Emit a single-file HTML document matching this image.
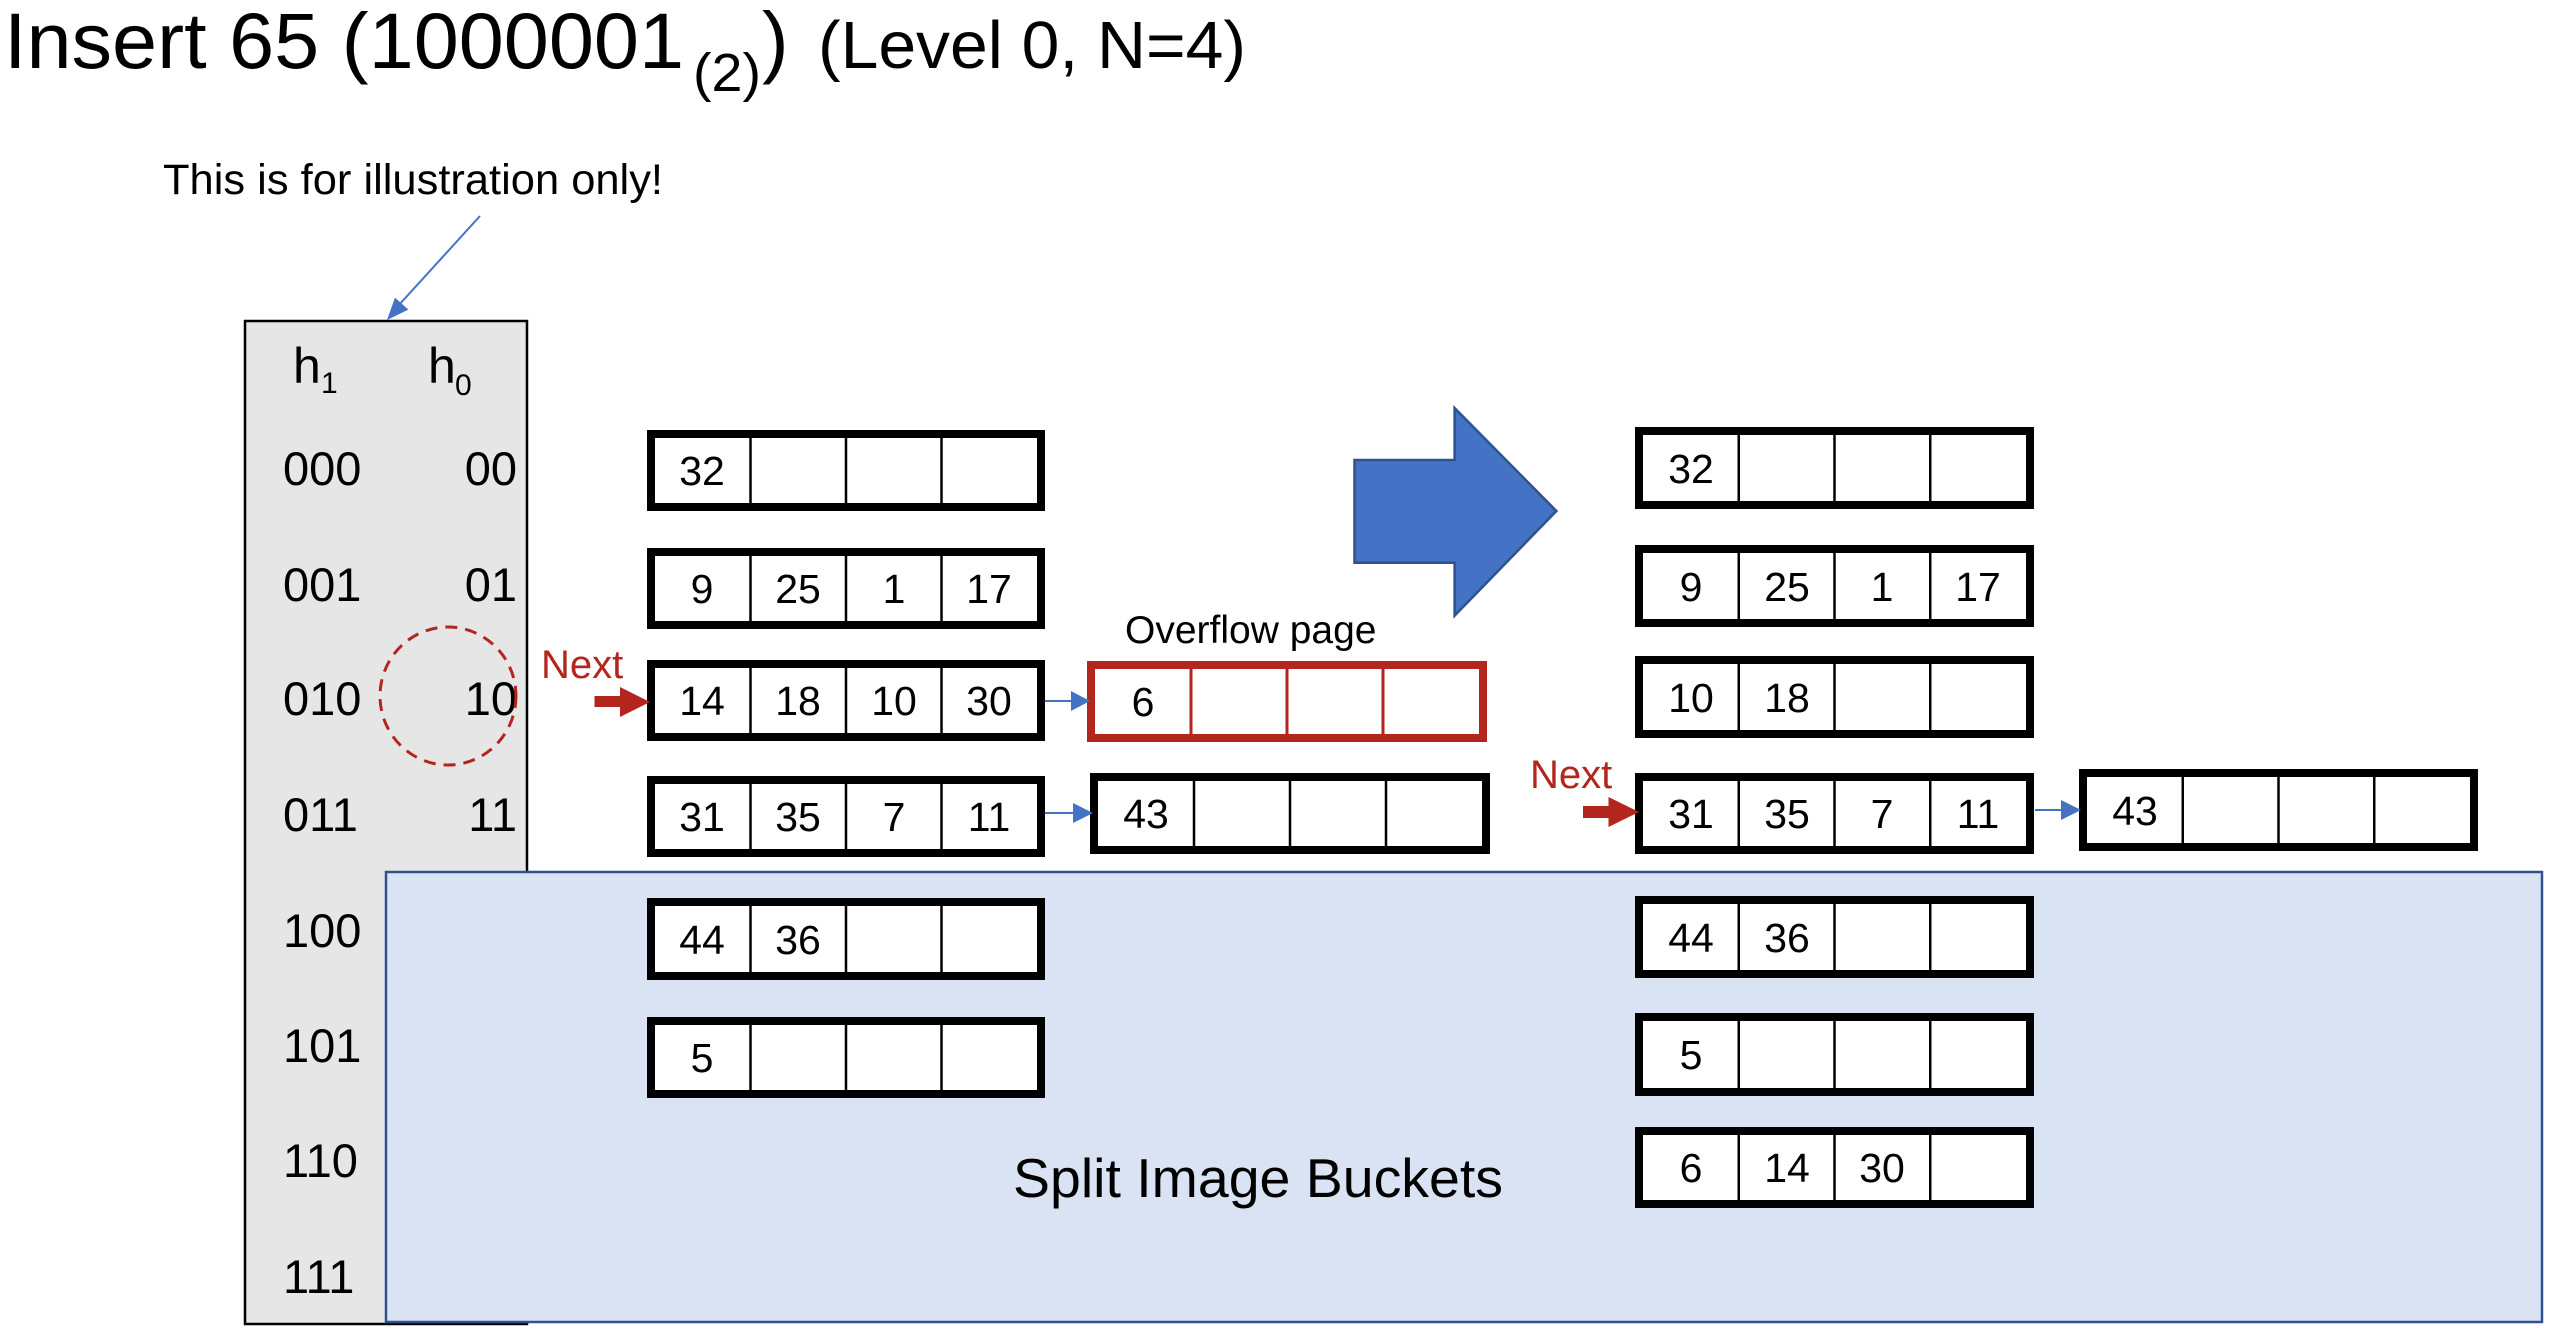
<!DOCTYPE html>
<html><head><meta charset="utf-8"><style>
html,body{margin:0;padding:0;background:#fff;}
svg{display:block;}
text{font-family:"Liberation Sans",Arial,sans-serif;}
</style></head><body>
<svg width="2556" height="1330" viewBox="0 0 2556 1330" xmlns="http://www.w3.org/2000/svg">
<rect x="0" y="0" width="2556" height="1330" fill="#fff"/>

<!-- Title -->
<text x="4" y="68" font-size="79" textLength="680" lengthAdjust="spacingAndGlyphs" fill="#000">Insert 65 (1000001</text>
<text x="693" y="91" font-size="54" textLength="68" lengthAdjust="spacingAndGlyphs" fill="#000">(2)</text>
<text x="762" y="68" font-size="80" fill="#000">)</text>
<text x="818" y="68" font-size="67" textLength="428" lengthAdjust="spacingAndGlyphs" fill="#000">(Level 0, N=4)</text>

<!-- illustration note -->
<text x="163" y="194" font-size="43" textLength="500" lengthAdjust="spacingAndGlyphs" fill="#000">This is for illustration only!</text>
<line x1="480" y1="216" x2="398" y2="306" stroke="#4472c4" stroke-width="2"/>
<polygon points="387,320 408.4,309.6 395,297.6" fill="#4472c4"/>

<!-- gray directory box -->
<rect x="245" y="321" width="282" height="1003" fill="#e6e6e6" stroke="#000" stroke-width="2.5"/>
<text x="293" y="383" font-size="50" fill="#000">h</text>
<text x="321" y="393" font-size="30" fill="#000">1</text>
<text x="428" y="383" font-size="50" fill="#000">h</text>
<text x="455" y="395" font-size="30" fill="#000">0</text>

<g font-size="47" fill="#000">
<text x="283" y="485">000</text><text x="517" y="485" text-anchor="end">00</text>
<text x="283" y="601">001</text><text x="517" y="601" text-anchor="end">01</text>
<text x="283" y="715">010</text><text x="517" y="715" text-anchor="end">10</text>
<text x="283" y="831">011</text><text x="517" y="831" text-anchor="end">11</text>
</g>

<!-- dashed circle -->
<ellipse cx="448" cy="696" rx="68" ry="69" fill="none" stroke="#b3261e" stroke-width="3" stroke-dasharray="12 8"/>

<!-- blue split region -->
<rect x="386" y="872" width="2156" height="450" fill="#dae3f3" stroke="#2f528f" stroke-width="2.5"/>
<g font-size="47" fill="#000">
<text x="283" y="947">100</text>
<text x="283" y="1062">101</text>
<text x="283" y="1177">110</text>
<text x="283" y="1293">111</text>
</g>
<text x="1013" y="1197" font-size="55" textLength="490" lengthAdjust="spacingAndGlyphs" fill="#000">Split Image Buckets</text>

<!-- LEFT BUCKETS -->
<g stroke="#000" fill="#fff">
<rect x="651" y="434" width="390" height="73" stroke-width="8"/>
<rect x="651" y="552" width="390" height="73" stroke-width="8"/>
<rect x="651" y="664" width="390" height="73" stroke-width="8"/>
<rect x="651" y="780" width="390" height="73" stroke-width="8"/>
<rect x="651" y="902" width="390" height="74" stroke-width="8"/>
<rect x="651" y="1021" width="390" height="73" stroke-width="8"/>
</g>
<g stroke="#000" stroke-width="2.5">
<line x1="750.5" y1="438" x2="750.5" y2="503"/><line x1="846" y1="438" x2="846" y2="503"/><line x1="941.5" y1="438" x2="941.5" y2="503"/>
<line x1="750.5" y1="556" x2="750.5" y2="621"/><line x1="846" y1="556" x2="846" y2="621"/><line x1="941.5" y1="556" x2="941.5" y2="621"/>
<line x1="750.5" y1="668" x2="750.5" y2="733"/><line x1="846" y1="668" x2="846" y2="733"/><line x1="941.5" y1="668" x2="941.5" y2="733"/>
<line x1="750.5" y1="784" x2="750.5" y2="849"/><line x1="846" y1="784" x2="846" y2="849"/><line x1="941.5" y1="784" x2="941.5" y2="849"/>
<line x1="750.5" y1="906" x2="750.5" y2="972"/><line x1="846" y1="906" x2="846" y2="972"/><line x1="941.5" y1="906" x2="941.5" y2="972"/>
<line x1="750.5" y1="1025" x2="750.5" y2="1090"/><line x1="846" y1="1025" x2="846" y2="1090"/><line x1="941.5" y1="1025" x2="941.5" y2="1090"/>
</g>
<g font-size="41" fill="#000" text-anchor="middle">
<text x="702" y="485">32</text>
<text x="702" y="603">9</text><text x="798" y="603">25</text><text x="894" y="603">1</text><text x="989" y="603">17</text>
<text x="702" y="715">14</text><text x="798" y="715">18</text><text x="894" y="715">10</text><text x="989" y="715">30</text>
<text x="702" y="831">31</text><text x="798" y="831">35</text><text x="894" y="831">7</text><text x="989" y="831">11</text>
<text x="702" y="954">44</text><text x="798" y="954">36</text>
<text x="702" y="1072">5</text>
</g>

<!-- left Next -->
<text x="541" y="678" font-size="40" fill="#b3261e">Next</text>
<polygon points="594.5,696 620,696 620,687 650,702 620,717 620,707 594.5,707" fill="#b3261e"/>

<!-- overflow pages (left) -->
<text x="1125" y="643" font-size="39" fill="#000">Overflow page</text>
<rect x="1091" y="665" width="392" height="73" fill="#fff" stroke="#b3261e" stroke-width="8"/>
<g stroke="#b3261e" stroke-width="3">
<line x1="1191" y1="669" x2="1191" y2="734"/><line x1="1287" y1="669" x2="1287" y2="734"/><line x1="1383" y1="669" x2="1383" y2="734"/>
</g>
<text x="1143" y="716" font-size="41" text-anchor="middle" fill="#000">6</text>

<rect x="1094" y="777" width="392" height="73" fill="#fff" stroke="#000" stroke-width="8"/>
<g stroke="#000" stroke-width="2.5">
<line x1="1194" y1="781" x2="1194" y2="846"/><line x1="1290" y1="781" x2="1290" y2="846"/><line x1="1386" y1="781" x2="1386" y2="846"/>
</g>
<text x="1146" y="828" font-size="41" text-anchor="middle" fill="#000">43</text>

<!-- connectors left -->
<line x1="1045" y1="701" x2="1074" y2="701" stroke="#4472c4" stroke-width="2"/>
<polygon points="1071,691 1090,701 1071,711" fill="#4472c4"/>
<line x1="1045" y1="813" x2="1075" y2="813" stroke="#4472c4" stroke-width="2"/>
<polygon points="1073,803 1093,813 1073,823" fill="#4472c4"/>

<!-- big blue arrow -->
<polygon points="1354.5,460 1454.6,460 1454.6,408 1556.4,511 1454.6,615.7 1454.6,562.7 1354.5,562.7" fill="#4472c4" stroke="#2f528f" stroke-width="2.5"/>

<!-- RIGHT BUCKETS -->
<g stroke="#000" fill="#fff">
<rect x="1639" y="431" width="391" height="74" stroke-width="8"/>
<rect x="1639" y="549" width="391" height="74" stroke-width="8"/>
<rect x="1639" y="660" width="391" height="74" stroke-width="8"/>
<rect x="1639" y="777" width="391" height="73" stroke-width="8"/>
<rect x="1639" y="900" width="391" height="74" stroke-width="8"/>
<rect x="1639" y="1017" width="391" height="75" stroke-width="8"/>
<rect x="1639" y="1131" width="391" height="73" stroke-width="8"/>
<rect x="2083" y="773" width="391" height="74" stroke-width="8"/>
</g>
<g stroke="#000" stroke-width="2.5">
<line x1="1738.75" y1="435" x2="1738.75" y2="501"/><line x1="1834.5" y1="435" x2="1834.5" y2="501"/><line x1="1930.25" y1="435" x2="1930.25" y2="501"/>
<line x1="1738.75" y1="553" x2="1738.75" y2="619"/><line x1="1834.5" y1="553" x2="1834.5" y2="619"/><line x1="1930.25" y1="553" x2="1930.25" y2="619"/>
<line x1="1738.75" y1="664" x2="1738.75" y2="730"/><line x1="1834.5" y1="664" x2="1834.5" y2="730"/><line x1="1930.25" y1="664" x2="1930.25" y2="730"/>
<line x1="1738.75" y1="781" x2="1738.75" y2="846"/><line x1="1834.5" y1="781" x2="1834.5" y2="846"/><line x1="1930.25" y1="781" x2="1930.25" y2="846"/>
<line x1="1738.75" y1="904" x2="1738.75" y2="970"/><line x1="1834.5" y1="904" x2="1834.5" y2="970"/><line x1="1930.25" y1="904" x2="1930.25" y2="970"/>
<line x1="1738.75" y1="1021" x2="1738.75" y2="1088"/><line x1="1834.5" y1="1021" x2="1834.5" y2="1088"/><line x1="1930.25" y1="1021" x2="1930.25" y2="1088"/>
<line x1="1738.75" y1="1135" x2="1738.75" y2="1200"/><line x1="1834.5" y1="1135" x2="1834.5" y2="1200"/><line x1="1930.25" y1="1135" x2="1930.25" y2="1200"/>
<line x1="2182.75" y1="777" x2="2182.75" y2="843"/><line x1="2278.5" y1="777" x2="2278.5" y2="843"/><line x1="2374.25" y1="777" x2="2374.25" y2="843"/>
</g>
<g font-size="41" fill="#000" text-anchor="middle">
<text x="1691" y="483">32</text>
<text x="1691" y="601">9</text><text x="1787" y="601">25</text><text x="1882" y="601">1</text><text x="1978" y="601">17</text>
<text x="1691" y="712">10</text><text x="1787" y="712">18</text>
<text x="1691" y="828">31</text><text x="1787" y="828">35</text><text x="1882" y="828">7</text><text x="1978" y="828">11</text>
<text x="1691" y="952">44</text><text x="1787" y="952">36</text>
<text x="1691" y="1069">5</text>
<text x="1691" y="1182">6</text><text x="1787" y="1182">14</text><text x="1882" y="1182">30</text>
<text x="2135" y="825">43</text>
</g>

<!-- right Next -->
<text x="1530" y="788" font-size="40" fill="#b3261e">Next</text>
<polygon points="1583,806 1608.5,806 1608.5,797 1639,812 1608.5,827 1608.5,818 1583,818" fill="#b3261e"/>

<!-- right connector -->
<line x1="2035" y1="810" x2="2063" y2="810" stroke="#4472c4" stroke-width="2"/>
<polygon points="2061,800 2081,810 2061,820" fill="#4472c4"/>
</svg>
</body></html>
